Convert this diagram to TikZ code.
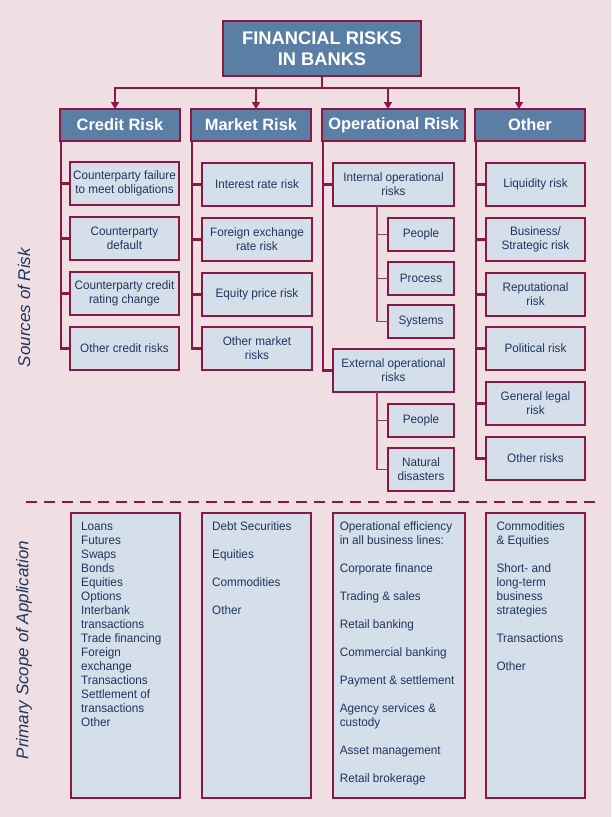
\documentclass[tikz,border=0pt]{standalone}
\usepackage{fontspec}
\setmainfont{Liberation Sans}
\newfontfamily\bodyf[FakeStretch=0.96]{Liberation Sans}
\newfontfamily\headf{Liberation Sans}
\newfontfamily\titlef{Liberation Sans}
\newfontfamily\sidef{Liberation Sans}
\usetikzlibrary{arrows.meta}
\definecolor{bgc}{HTML}{F0DFE2}
\definecolor{mrn}{HTML}{8A1846}
\definecolor{hfill}{HTML}{5B7FA4}
\definecolor{lfill}{HTML}{D4DFEA}
\definecolor{navy}{HTML}{1F355E}
\tikzset{
  hdr/.style={draw=mrn, line width=2.2pt, fill=hfill, text=white, font=\headf\bfseries\fontsize{16.4}{18}\selectfont, inner sep=0pt, outer sep=0pt},
  ttl/.style={hdr, font=\titlef\bfseries\fontsize{18.3}{21}\selectfont, align=center},
  lbox/.style={draw=mrn, line width=2.2pt, fill=lfill, text=navy, font=\bodyf\fontsize{12.2}{14}\selectfont, align=center, inner sep=0pt, outer sep=0pt},
  conn/.style={draw=mrn, line width=2.2pt},
  subconn/.style={draw=mrn!85, line width=1.6pt},
  arr/.style={conn, -{Triangle[length=7pt,width=8pt]}},
  listtext/.style={text=navy, font=\bodyf\fontsize{12.2}{14}\selectfont, align=left, anchor=north west, inner sep=0pt},
  side/.style={text=navy, font=\sidef\itshape\fontsize{17}{20}\selectfont, rotate=90, inner sep=0pt}
}
\newcommand\BX[7]{\node[#1, minimum width={(#5)-(#3)}, minimum height={(#6)-(#4)}] (#2) at ({((#3)+(#5))/2},{((#4)+(#6))/2}) {#7};}
\begin{document}
\begin{tikzpicture}[x=1pt,y=-1pt]
\fill[bgc] (0,0) rectangle (611,817);
\useasboundingbox (0,0) rectangle (611,817);
% title and headers
\BX{ttl}{title}{223}{21}{421}{76}{FINANCIAL RISKS\\IN BANKS}
\BX{hdr}{credit}{60}{109}{180}{141}{Credit Risk}
\BX{hdr}{market}{191}{109}{311}{141}{Market Risk}
\BX{hdr}{oper}{322}{109}{465}{141}{Operational Risk}
\BX{hdr}{other}{475}{109}{585}{141}{Other}
\coordinate (hub) at (322,88);
\coordinate (a1) at ([xshift=-5pt]credit.north);
\coordinate (a2) at ([xshift=5pt]market.north);
\coordinate (a3) at ([xshift=-5.5pt]oper.north);
\coordinate (a4) at ([xshift=-11pt]other.north);
\foreach \a in {a1,a2,a3,a4}{\draw[arr] (title.south) -- (title.south |- hub) -| (\a);}
% credit
\BX{lbox}{c1}{70}{162}{179}{205}{Counterparty failure\\to meet obligations}
\BX{lbox}{c2}{70}{217}{179}{260}{Counterparty\\default}
\BX{lbox}{c3}{70}{272}{179}{315}{Counterparty credit\\rating change}
\BX{lbox}{c4}{70}{327}{179}{370}{Other credit risks}
\foreach \b in {c1,c2,c3,c4}{\draw[conn] ([xshift=1pt]credit.south west) |- (\b.west);}
% market
\BX{lbox}{m1}{202}{163}{312}{206}{Interest rate risk}
\BX{lbox}{m2}{202}{218}{312}{261}{Foreign exchange\\rate risk}
\BX{lbox}{m3}{202}{273}{312}{316}{Equity price risk}
\BX{lbox}{m4}{202}{327}{312}{370}{Other market\\risks}
\foreach \b in {m1,m2,m3,m4}{\draw[conn] ([xshift=1pt]market.south west) |- (\b.west);}
% operational
\BX{lbox}{int}{333}{163}{454}{206}{Internal operational\\risks}
\BX{lbox}{p1}{388}{218}{454}{251}{People}
\BX{lbox}{p2}{388}{262}{454}{295}{Process}
\BX{lbox}{p3}{388}{305}{454}{338}{Systems}
\BX{lbox}{ext}{333}{349}{454}{392}{External operational\\risks}
\BX{lbox}{e1}{388}{404}{454}{437}{People}
\BX{lbox}{e2}{388}{448}{454}{491}{Natural\\disasters}
\foreach \b in {int,ext}{\draw[conn] ([xshift=1pt]oper.south west) |- (\b.west);}
\foreach \b in {p1,p2,p3}{\draw[subconn] ([xshift=44pt]int.south west) |- (\b.west);}
\foreach \b in {e1,e2}{\draw[subconn] ([xshift=44pt]ext.south west) |- (\b.west);}
% other
\BX{lbox}{r1}{486}{163}{585}{206}{Liquidity risk}
\BX{lbox}{r2}{486}{218}{585}{261}{Business/\\Strategic risk}
\BX{lbox}{r3}{486}{273}{585}{316}{Reputational\\risk}
\BX{lbox}{r4}{486}{327}{585}{370}{Political risk}
\BX{lbox}{r5}{486}{382}{585}{425}{General legal\\risk}
\BX{lbox}{r6}{486}{437}{585}{480}{Other risks}
\foreach \b in {r1,r2,r3,r4,r5,r6}{\draw[conn] ([xshift=1pt]other.south west) |- (\b.west);}
% side labels
\node[side] (s1) at (24,307.5) {Sources of Risk};
\node[side] (s2) at (24,650) {Primary Scope of Application};
% dashed separator
\coordinate (dl) at (26,502);
\coordinate (dr) at (597,502);
\draw[mrn, line width=2pt, dash pattern=on 11pt off 7pt] (dl) -- (dr);
% bottom boxes
\BX{lbox}{b1}{71}{513}{180}{798}{}
\BX{lbox}{b2}{202}{513}{311}{798}{}
\BX{lbox}{b3}{333}{513}{465}{798}{}
\BX{lbox}{b4}{486}{513}{585}{798}{}
\node[listtext] (t1) at ([xshift=10pt,yshift=-8.5pt]b1.north west) {Loans\\Futures\\Swaps\\Bonds\\Equities\\Options\\Interbank\\transactions\\Trade financing\\Foreign\\exchange\\Transactions\\Settlement of\\transactions\\Other};
\node[listtext] (t2) at ([xshift=10pt,yshift=-8.5pt]b2.north west) {Debt Securities\\[14pt]Equities\\[14pt]Commodities\\[14pt]Other};
\node[listtext] (t3) at ([xshift=6.6pt,yshift=-8.5pt]b3.north west) {Operational efficiency\\in all business lines:\\[14pt]Corporate finance\\[14pt]Trading \& sales\\[14pt]Retail banking\\[14pt]Commercial banking\\[14pt]Payment \& settlement\\[14pt]Agency services \&\\custody\\[14pt]Asset management\\[14pt]Retail brokerage};
\node[listtext] (t4) at ([xshift=10.3pt,yshift=-8.5pt]b4.north west) {Commodities\\\& Equities\\[14pt]Short- and\\long-term\\business\\strategies\\[14pt]Transactions\\[14pt]Other};
\end{tikzpicture}
\end{document}
